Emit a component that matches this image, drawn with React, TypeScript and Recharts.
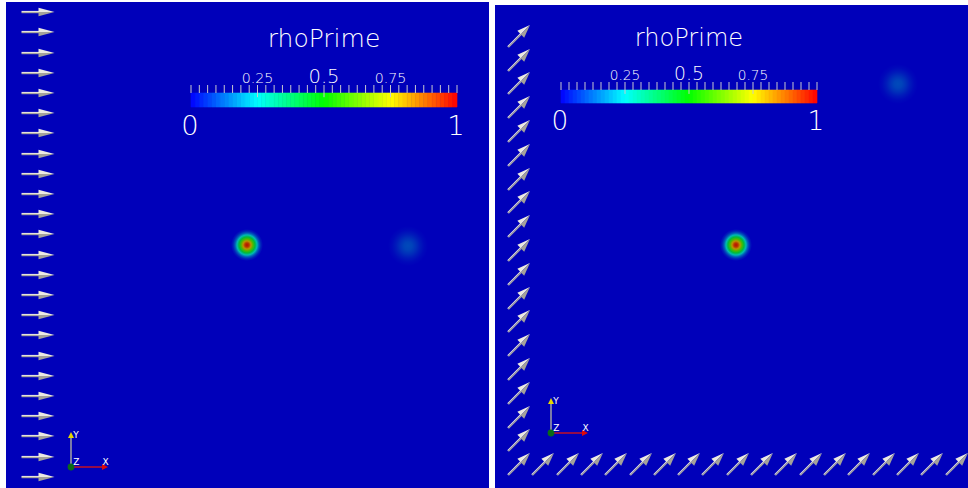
import React from 'react';
import { ScatterChart, Scatter, XAxis, YAxis, ReferenceArea, ReferenceLine } from 'recharts';

const FONT = "'DejaVu Sans', 'Liberation Sans', sans-serif";
const TEXT = '#ffffff';
const SHADE = 0.73; // lit surface is darker than the scalar bar
const BG = 'rgb(0,0,186)';

// scalar bar
const fieldName = 'rhoPrime';
const barLabels = [0.25, 0.5, 0.75];
const barEnds = [0, 1];

// left view: vectors down the inflow edge, pointing +x
const leftGlyphX = [32];
const leftGlyphY = [10, 30, 51, 71, 91, 111, 131, 152, 172, 192, 212, 232, 253, 273, 293, 313, 333, 354, 374, 394, 414, 434, 455, 475];

// right view: vectors along the left and bottom edges, pointing at 45 deg
const rightColumnX = [24];
const rightColumnY = [31, 55, 78, 102, 126, 150, 174, 197, 221, 245, 269, 293, 316, 340, 364, 388, 412, 435, 459];
const rightRowX = [48, 73, 97, 121, 146, 170, 194, 218, 243, 267, 291, 316, 340, 364, 389, 413, 437, 462];
const rightRowY = [459];

// density bumps
const leftBumps = [
  { x: 241, y: 243, profile: 'peak' },
  { x: 402, y: 244, profile: 'faint' },
];
const rightBumps = [
  { x: 241, y: 240, profile: 'peak' },
  { x: 403, y: 79, profile: 'faint' },
];

// radial profiles: distance from centre -> rhoPrime
const peakR = [0, 2, 4, 6, 8, 10, 12, 14, 16];
const peakV = [0.98, 0.93, 0.8, 0.6, 0.42, 0.26, 0.12, 0.04, 0];
const faintR = [0, 4, 8, 12, 16, 20];
const faintV = [0.1, 0.09, 0.065, 0.035, 0.012, 0];

// axes triad origins
const leftTriad = { x: 65, y: 465 };
const rightTriad = { x: 56, y: 428 };

// blue -> red HSV rainbow
const rainbow = (v: number, shade = 1) => {
  const t = Math.min(1, Math.max(0, v));
  const hp = ((1 - t) * 240) / 60;
  const x = 1 - Math.abs((hp % 2) - 1);
  let rgb = [0, x, 1];
  if (hp < 1) rgb = [1, x, 0];
  else if (hp < 2) rgb = [x, 1, 0];
  else if (hp < 3) rgb = [0, 1, x];
  const [r, g, b] = rgb.map((c) => Math.round(c * 255 * shade));
  return `rgb(${r},${g},${b})`;
};

const Bump = (p: any) => {
  const peak = p.payload.profile === 'peak';
  const rs = peak ? peakR : faintR;
  const vs = peak ? peakV : faintV;
  const R = rs[rs.length - 1];
  const gid = `bump-${p.tag}-${p.payload.x}-${p.payload.y}`;
  return (
    <g>
      <defs>
        <radialGradient id={gid} cx="50%" cy="50%" r="50%">
          {rs.map((r, i) => (
            <stop key={i} offset={r / R} stopColor={rainbow(vs[i], SHADE)} />
          ))}
        </radialGradient>
      </defs>
      <circle cx={p.cx} cy={p.cy} r={R} fill={`url(#${gid})`} />
    </g>
  );
};

const Arrow = ({ cx, cy, angle, len, head, half }: any) => {
  const h0 = len / 2 - head;
  return (
    <g transform={`translate(${cx},${cy}) rotate(${angle})`}>
      <line x1={-len / 2} y1={-0.5} x2={h0 + 1} y2={-0.5} stroke="#e4e2dc" strokeWidth={1.2} />
      <line x1={-len / 2} y1={0.6} x2={h0 + 1} y2={0.6} stroke="#a9a7a0" strokeWidth={1.2} />
      <polygon points={`${h0},${-half} ${len / 2},0 ${h0},0`} fill="#ebe9e2" />
      <polygon points={`${h0},0 ${len / 2},0 ${h0},${half}`} fill="#a4a29a" />
    </g>
  );
};

const Triad = ({ cx, cy }: any) => (
  <g fontFamily={FONT} fontSize={9} fill="#ffffff">
    <line x1={cx} y1={cy} x2={cx} y2={cy - 29} stroke="#9a9aa4" strokeWidth={1.6} />
    <polygon points={`${cx - 3},${cy - 29} ${cx + 3},${cy - 29} ${cx},${cy - 35}`} fill="#e6d800" />
    <line x1={cx} y1={cy} x2={cx + 31} y2={cy} stroke="#b8102c" strokeWidth={1.6} />
    <polygon points={`${cx + 31},${cy - 3} ${cx + 31},${cy + 3} ${cx + 37},${cy}`} fill="#e00808" />
    <circle cx={cx} cy={cy} r={3.4} fill="#0a6a18" />
    <text x={cx + 2.3} y={cy - 29.5}>Y</text>
    <text x={cx + 2.3} y={cy - 2}>Z</text>
    <text x={cx + 31.5} y={cy - 2}>X</text>
  </g>
);

const View = ({ tag, left, top, width, height, glyphs, arrow, bumps, triad }: any) => (
  <div style={{ position: 'absolute', left, top, width, height, background: BG }}>
    <ScatterChart width={width} height={height} margin={{ top: 0, right: 0, bottom: 0, left: 0 }}>
      <XAxis type="number" dataKey="x" domain={[0, width]} hide allowDataOverflow />
      <YAxis type="number" dataKey="y" domain={[0, height]} reversed hide allowDataOverflow />
      <Scatter data={bumps} isAnimationActive={false} shape={(p: any) => <Bump {...p} tag={tag} />} />
      <Scatter
        data={glyphs}
        isAnimationActive={false}
        shape={(p: any) => <Arrow cx={p.cx} cy={p.cy} {...arrow} />}
      />
      <Scatter data={[triad]} isAnimationActive={false} shape={(p: any) => <Triad cx={p.cx} cy={p.cy} />} />
    </ScatterChart>
  </div>
);

const CELLS = 64;
const MINOR = 32;

const ColorBar = ({ barX, barW, tickTop, barTop, barBottom, titleBase, k }: any) => {
  const pad = 30;
  const topH = 40;
  const botH = 40;
  const plotH = barBottom - tickTop;
  const span = plotH / (barBottom - barTop);
  const cells = Array.from({ length: CELLS }, (_, i) => i / CELLS);
  const minor = Array.from({ length: MINOR + 1 }, (_, i) => i / MINOR);
  return (
    <>
      <svg
        style={{ position: 'absolute', left: barX - 100, top: titleBase - 30 }}
        width={barW + 200}
        height={40}
      >
        <text
          x={barW / 2 + 100}
          y={30}
          textAnchor="middle"
          fontSize={25 * k}
          fontFamily={FONT}
          fontWeight={200}
          fill={TEXT}
        >
          {fieldName}
        </text>
      </svg>
      <div style={{ position: 'absolute', left: barX - pad, top: tickTop - topH }}>
        <ScatterChart
          width={barW + 2 * pad}
          height={topH + plotH + botH}
          margin={{ top: 0, right: pad, bottom: 0, left: pad }}
        >
          <XAxis
            xAxisId="top"
            orientation="top"
            type="number"
            dataKey="x"
            domain={[0, 1]}
            ticks={barLabels}
            interval={0}
            height={topH}
            tickSize={0}
            tickMargin={0}
            axisLine={false}
            tickLine={false}
            tick={(p: any) => (
              <text
                x={p.x}
                y={p.y - 2}
                textAnchor="middle"
                fill={TEXT}
                fontFamily={FONT}
                fontWeight={200}
                fontSize={(p.payload.value === 0.5 ? 19.5 : 14.2) * k}
              >
                {String(p.payload.value)}
              </text>
            )}
          />
          <XAxis
            xAxisId="end"
            orientation="bottom"
            type="number"
            dataKey="x"
            domain={[0, 1]}
            ticks={barEnds}
            interval={0}
            height={botH}
            tickSize={0}
            tickMargin={0}
            axisLine={false}
            tickLine={false}
            tick={(p: any) => (
              <text
                x={p.x - 1}
                y={p.y + 28 * k}
                textAnchor="middle"
                fill={TEXT}
                fontFamily={FONT}
                fontWeight={200}
                fontSize={27.4 * k}
              >
                {String(p.payload.value)}
              </text>
            )}
          />
          <YAxis yAxisId="cb" type="number" dataKey="y" domain={[0, span]} hide />
          {cells.map((v) => {
            const c = rainbow(v + 0.5 / CELLS);
            return (
              <ReferenceArea
                key={`c${v}`}
                xAxisId="top"
                yAxisId="cb"
                x1={v}
                x2={v + 1 / CELLS}
                y1={0}
                y2={1}
                fill={c}
                fillOpacity={1}
                stroke={c}
                strokeWidth={0.6}
              />
            );
          })}
          {minor.map((v) => (
            <ReferenceLine
              key={`t${v}`}
              xAxisId="top"
              yAxisId="cb"
              segment={[
                { x: v, y: barLabels.includes(v) ? 0.7 : 1 },
                { x: v, y: span },
              ]}
              stroke="#c8c8d0"
              strokeWidth={1}
            />
          ))}
          <Scatter
            xAxisId="top"
            yAxisId="cb"
            data={barLabels.map((v) => ({ x: v, y: 1 }))}
            isAnimationActive={false}
            shape={() => <g />}
          />
          <Scatter
            xAxisId="end"
            yAxisId="cb"
            data={barEnds.map((v) => ({ x: v, y: 0 }))}
            isAnimationActive={false}
            shape={() => <g />}
          />
        </ScatterChart>
      </div>
    </>
  );
};

export default function App() {
  const leftGlyphs = leftGlyphY.map((y) => ({ x: leftGlyphX[0], y }));
  const rightGlyphs = [
    ...rightColumnY.map((y) => ({ x: rightColumnX[0], y })),
    ...rightRowX.map((x) => ({ x, y: rightRowY[0] })),
  ];
  return (
    <div style={{ position: 'absolute', left: 0, top: 0, width: 968, height: 488, background: '#ffffff', overflow: 'hidden' }}>
      <View
        tag="l"
        left={6}
        top={2}
        width={483}
        height={486}
        glyphs={leftGlyphs}
        arrow={{ angle: 0, len: 33, head: 16, half: 4.3 }}
        bumps={leftBumps}
        triad={leftTriad}
      />
      <View
        tag="r"
        left={495}
        top={5}
        width={473}
        height={483}
        glyphs={rightGlyphs}
        arrow={{ angle: -45, len: 31, head: 13, half: 4.8 }}
        bumps={rightBumps}
        triad={rightTriad}
      />
      <ColorBar barX={191} barW={266} tickTop={85} barTop={93} barBottom={107} titleBase={47} k={1} />
      <ColorBar barX={561} barW={256} tickTop={82} barTop={90} barBottom={103} titleBase={46} k={0.962} />
    </div>
  );
}
